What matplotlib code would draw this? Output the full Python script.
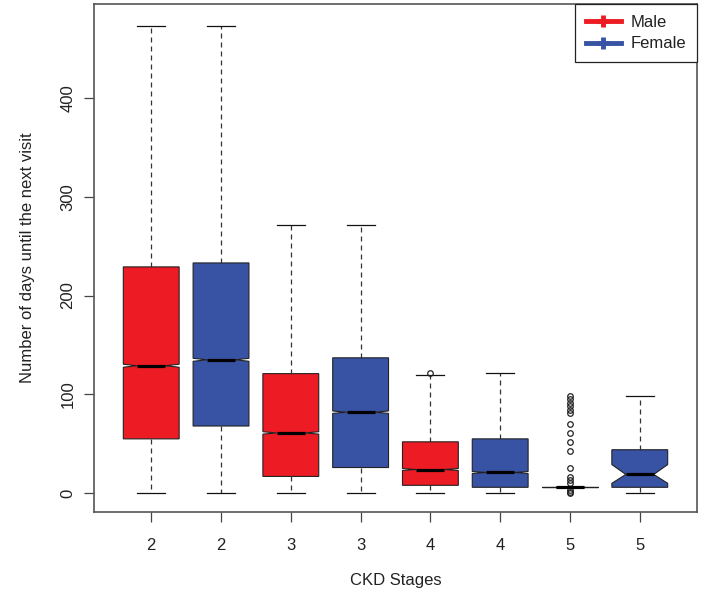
import matplotlib
matplotlib.use("Agg")
import matplotlib.pyplot as plt
from matplotlib.lines import Line2D

# === DATA ===
stage_labels = ["2", "2", "3", "3", "4", "4", "5", "5"]
sex = ["Male", "Female"] * 4

whislo = [0, 0, 0, 0, 0, 0, 6.5, 0]
q1 = [55, 68, 17, 26, 8, 6, 6.5, 6]
med = [129, 135, 61, 82, 24, 21, 6.5, 19]
q3 = [229, 233, 121, 137, 52, 55, 6.5, 44]
whishi = [473, 473, 271, 271, 120, 122, 6.5, 98]
ci_lo = [127.5, 133.5, 59.8, 80.8, 23, 20, 6.5, 10]
ci_hi = [130.5, 136.5, 62.2, 83.2, 25, 22, 6.5, 29]
fliers = [[], [], [], [], [122], [],
          [98, 95, 91, 88, 84, 81, 70, 61, 52, 43, 26, 16, 13, 10, 3, 1, 0],
          []]

colors = {"Male": "#ED1C24", "Female": "#3953A4"}

# === STYLE ===
plt.rcParams["font.family"] = ["Liberation Sans", "DejaVu Sans"]
plt.rcParams["font.size"] = 12
txt = "#222222"

fig = plt.figure(figsize=(7.06, 5.96), dpi=100)
ax = fig.add_axes([94 / 706, 84 / 596, 603 / 706, 508 / 596])

stats = []
for i in range(len(med)):
    stats.append(dict(med=med[i], q1=q1[i], q3=q3[i], whislo=whislo[i],
                      whishi=whishi[i], cilo=ci_lo[i], cihi=ci_hi[i],
                      fliers=fliers[i]))

positions = list(range(1, len(med) + 1))
bp = ax.bxp(stats, positions=positions, widths=0.8, patch_artist=True,
            shownotches=True,
            boxprops=dict(edgecolor="#222222", linewidth=0.8),
            whiskerprops=dict(color="#333333", linewidth=0.9, linestyle=(0, (4.0, 3.2))),
            capprops=dict(color="#111111", linewidth=0.9),
            medianprops=dict(color="black", linewidth=2.3, solid_capstyle="butt"),
            flierprops=dict(marker="o", markersize=4.0, markerfacecolor="none",
                            markeredgecolor="#222222", markeredgewidth=0.9))

for patch, s in zip(bp["boxes"], sex):
    patch.set_facecolor(colors[s])

ax.set_xlim(0.18, 8.82)
ax.set_ylim(-19, 495)
ax.set_xticks(positions)
ax.set_xticklabels(stage_labels, color=txt)
ax.set_yticks([0, 100, 200, 300, 400])
ax.set_yticklabels(["0", "100", "200", "300", "400"], color=txt)
for lab in ax.get_yticklabels():
    lab.set_rotation(90)
    lab.set_va("center")

ax.tick_params(axis="x", length=7.5, width=0.9, color="#444444", pad=11)
ax.tick_params(axis="y", length=7.5, width=0.9, color="#444444", pad=6)
for sp in ax.spines.values():
    sp.set_color("#555555")
    sp.set_linewidth(1.2)

ax.set_xlabel("CKD Stages", color=txt, va="center")
ax.xaxis.set_label_coords(0.5, -(580 - 512) / 508)
ax.set_ylabel("Number of days until the next visit", color=txt, va="center")
ax.yaxis.set_label_coords(-(94 - 28) / 603, 0.5)

handles = [Line2D([], [], color=colors[s], linewidth=3.5, marker="+",
                  markersize=9, markeredgewidth=3.5) for s in ["Male", "Female"]]
leg = ax.legend(handles, ["Male", "Female"], loc="upper right", borderaxespad=0,
                fancybox=False, framealpha=1, edgecolor="#222222",
                handlelength=2.1, handletextpad=0.6, labelspacing=0.4,
                borderpad=0.65, labelcolor=txt, prop={"size": 12})
leg.get_frame().set_linewidth(0.9)

plt.savefig("out.png", dpi=100)
plt.close()
